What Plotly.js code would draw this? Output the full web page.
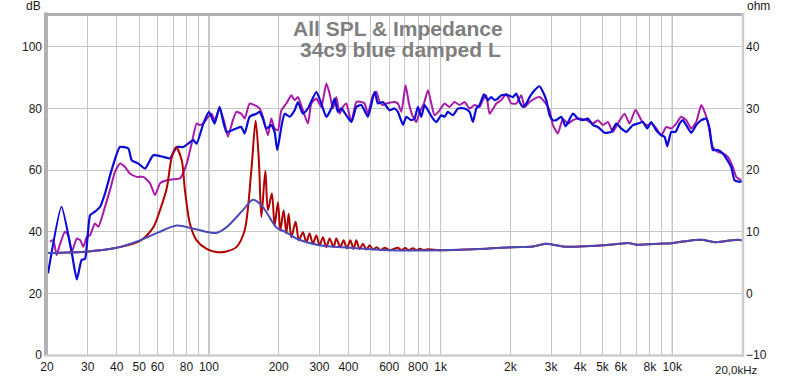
<!DOCTYPE html>
<html>
<head>
<meta charset="utf-8">
<script src="https://cdn.plot.ly/plotly-3.0.1.min.js"></script>
<style>html,body{margin:0;padding:0;background:#fff;}#chart{width:800px;height:377px;}</style>
</head>
<body>
<div id="chart"></div>
<script>
// ---- data ----
const blueFreq = [20.2,23.1,25.6,26.9,28.2,29.2,30.7,32.2,33.9,35.6,38.0,41.3,44.9,46.4,49.6,53.0,57.5,63.5,67.9,72.6,77.5,85.6,88.5,94.6,100,105.8,111.2,118.9,131.3,138.0,142.6,149.8,160.2,165.5,171,176.9,185.9,192.1,197.3,205.4,212.2,223,234.4,242.2,254.5,267.5,290.8,305.6,321.2,337.5,348.7,360.3,372.8,411.8,432.8,454.9,485.7,519,536.4,563.6,602.5,633,654,688,711,747,772,798,825,853,882,927,958,1007,1040,1075,1130,1188,1269,1334,1379,1426,1473,1538,1600,1655,1710,1767,1828,1952,2051,2122,2193,2266,2344,2422,2545,2675,2764,2859,2954,3052,3157,3319,3464,3724,3914,4113,4323,4543,4775,5103,5453,5731,6023,6330,6761,7106,7467,7800,8116,8530,8966,9264,9515,9901,10333,10752,11110,11490,12080,12690,13340,14020,14490,14970,15730,16540,17100,17970,18570,19520,20000];
const blueSPL = [26.5,48.1,33.0,24.5,30.8,31.3,45.4,46.5,48.1,52.4,60.0,67.5,67.0,63.2,62.1,60.5,64.8,64.3,63.8,67.5,67.5,69.7,68.6,75.1,78.9,75.1,80.5,72.4,73.5,74.0,71.9,77.3,78.3,78.9,76.7,73.5,74.6,72.4,66.5,74.0,78.3,77.3,79.4,82.1,78.3,80.0,85.4,81.6,77.3,80.0,83.2,78.9,80.0,75.6,80.5,81.1,77.3,85.4,81.6,82.1,79.4,80.0,78.9,74.7,77.3,76.2,76.7,80.5,77.3,81.1,79.4,76.7,75.6,77.8,77.3,78.9,77.8,80.0,80.0,78.9,75.6,80.0,81.1,84.6,82.7,83.7,82.7,83.2,84.3,84.3,83.7,84.8,82.1,80.5,81.6,83.7,85.9,87.2,85.4,82.7,77.8,76.2,76.2,77.3,74.2,78.3,76.7,76.2,76.7,74.6,74.0,72.1,72.4,75.1,73.5,72.4,74.6,75.1,75.6,73.5,75.6,72.9,71.3,70.8,67.7,72.4,72.4,75.1,76.2,74.6,72.1,74.6,76.2,76.7,73.5,66.5,66.5,65.4,63.8,61.0,56.7,56.2,56.4];

const magFreq = [20.6,21.3,22.0,22.7,23.9,24.7,25.6,26.9,27.8,28.7,29.7,30.7,32.2,33.3,34.4,35.6,37.4,39.3,41.3,43.4,45.6,48.8,52.1,55.7,58.5,61.5,65.7,70.2,75.0,80.2,84.2,88.5,91.4,94.5,99.3,102.7,105.8,111.2,117.0,120.8,126.9,131.3,138.0,142.6,149.8,157.5,165.5,171.0,179.7,185.9,192.1,198.6,205.4,215.8,226.8,234.4,242.2,254.5,267.5,276.7,290.8,305.6,321.2,331.9,342.9,354.7,366.5,378.7,391.7,411.8,432.8,454.9,469.9,485.6,510.5,528,545.5,563.6,583,633,654,677,706,730,755,785,812,847,882,912,942,990,1040,1093,1149,1208,1269,1334,1402,1473,1522,1575,1627,1740,1828,1921,2019,2122,2230,2305,2422,2545,2675,2811,2954,3053,3209,3372,3543,3724,3980,4253,4543,4775,5018,5274,5541,5823,6222,6540,6943,7348,7722,8116,8530,8966,9421,9901,10406,10935,11490,12080,12690,13340,13790,14240,14970,15730,16540,17380,18260,18890,19860];
const magSPL = [36.7,37.3,32.4,35.7,40.0,38.9,33.5,37.8,37.3,35.1,38.3,38.9,42.7,41.6,44.3,48.1,53.5,59.4,62.1,61.0,58.9,57.8,57.8,55.7,51.9,55.7,56.7,57.0,57.3,62.1,68.6,75.1,74.6,75.1,77.3,78.3,76.2,80.0,75.1,70.8,76.2,78.9,78.3,76.7,81.6,81.1,80.0,77.3,71.3,76.7,73.5,72.9,79.4,81.6,84.3,82.7,83.7,79.4,75.1,81.6,83.2,80.5,88.1,84.8,80.0,83.7,78.3,80.5,81.6,75.6,82.1,82.1,81.6,78.3,84.3,85.4,82.1,81.1,81.6,82.1,81.6,78.9,87.5,81.6,77.8,75.6,78.9,81.6,85.9,81.6,77.8,79.4,81.6,80.5,82.1,81.1,82.1,80.0,81.1,80.5,82.7,84.3,78.3,81.6,82.7,84.8,81.6,81.6,84.3,80.5,82.1,83.2,83.7,82.1,79.4,74.6,71.9,76.7,75.1,76.2,76.7,76.2,75.1,76.2,74.6,75.6,72.4,75.1,78.3,75.1,79.6,76.2,74.6,75.1,73.5,71.3,74.0,73.5,75.1,77.3,76.2,73.5,75.6,81.1,78.9,75.6,67.5,65.9,65.4,64.3,61.0,57.8,56.7];

const zDampFreq = [20,30.1,40.0,50.4,60.5,72.6,85.6,100,107.6,118.9,140.2,154.9,171.0,195.4,215.8,238.4,300.5,404.9,602.5,1007,1473,2051,2503,2859,3052,3372,3980,5018,5923,6543,6994,8816,10000,11110,13340,15250,17100,19210,20000];
const zDamp = [6.53,6.8,7.4,8.6,9.9,11.0,10.5,9.9,9.8,10.7,13.5,15.2,14.0,10.7,9.9,8.9,7.8,7.4,7.0,7.0,7.2,7.5,7.6,8.05,7.9,7.6,7.6,7.8,8.05,8.15,7.9,8.05,8.15,8.4,8.7,8.3,8.5,8.7,8.6];

const zRedFreq = [20,30.1,40.0,50.4,57.5,61.5,65.7,69.1,72.1,76.3,78.8,82.8,88.5,97.8,107.6,118.9,131.3,142.6,152.4,159.1,164.4,168.4,175.2,179.7,187.0,192.1,198.6,203.4,210.1,215.8,220.8,226.8,236.7,244.6,254.5,263.3,272.0,281.1,290.8,300.5,310.5,321.2,331.9,345.3,354.7,369.1,381.4,394.1,407.7,421.3,432.8,447.2,462.1,477.9,493.9,510.5,529.6,550.8,573.2,602.5,654,677,704,728,759,788,812,845,882,1007,1473,2051,2503,2859,3052,3372,3980,5018,5923,6543,6994,8816,10000,11110,13340,15250,17100,19210,20000];
const zRed = [6.53,6.8,7.4,8.5,10.7,13.5,17.0,22.1,23.7,21.6,16.7,11.3,8.6,7.2,6.7,6.8,7.5,10.2,19.9,28.0,21.3,12.4,19.9,13.5,16.2,11.0,14.8,10.2,13.5,9.7,12.9,9.1,11.6,8.6,9.9,8.3,9.7,8.05,9.4,7.8,9.1,7.5,8.9,7.5,8.9,7.5,8.6,7.3,8.6,7.2,8.6,7.2,8.05,7.1,7.8,7.1,7.5,7.0,7.4,7.0,7.4,7.0,7.35,7.0,7.3,7.0,7.25,7.0,7.15,7.0,7.2,7.5,7.6,8.05,7.9,7.6,7.6,7.8,8.05,8.15,7.9,8.05,8.15,8.4,8.7,8.3,8.5,8.7,8.6];

const xTickVals = [20,30,40,50,60,70,80,90,100,200,300,400,500,600,700,800,900,1000,2000,3000,4000,5000,6000,7000,8000,9000,10000,20000];
const xTickText = ['20','30','40','50','60','','80','','100','200','300','400','','600','','800','','1k','2k','3k','4k','5k','6k','','8k','','10k',''];
const yTickVals = [0,20,40,60,80,100];
const y2TickVals = [-10,0,10,20,30,40];
const titleLines = ['All SPL & Impedance','34c9 blue damped L'];

// ---- plot ----
const FONT = 'Liberation Sans, Arial, Helvetica, sans-serif';
const traces = [
  {x: zRedFreq, y: zRed, yaxis: 'y2', mode: 'lines', line: {color: '#b00000', width: 2, shape: 'spline', smoothing: 0.8}, hoverinfo: 'skip'},
  {x: zDampFreq, y: zDamp, yaxis: 'y2', mode: 'lines', line: {color: '#4a4abb', width: 2, shape: 'spline', smoothing: 0.8}, hoverinfo: 'skip'},
  {x: magFreq, y: magSPL, mode: 'lines', line: {color: '#a81aa8', width: 2, shape: 'spline', smoothing: 0.5}, hoverinfo: 'skip'},
  {x: blueFreq, y: blueSPL, mode: 'lines', line: {color: '#0a0ad8', width: 2.2, shape: 'spline', smoothing: 0.5}, hoverinfo: 'skip'}
];

const W = 695, H = 339;
function px(x){ return (x - 47) / W; }
function py(y){ return (355 - y) / H; }

const shapes = [];
[100, 1000, 10000].forEach(v => shapes.push({type: 'line', xref: 'x', yref: 'paper', x0: v, x1: v, y0: 0, y1: 1, line: {color: '#8a8a8a', width: 1}, layer: 'between'}));
shapes.push({type: 'line', xref: 'paper', yref: 'paper', x0: px(46), x1: px(46), y0: py(356), y1: py(12.5), line: {color: '#b2b2b2', width: 4}, layer: 'above'});
shapes.push({type: 'line', xref: 'paper', yref: 'paper', x0: px(44), x1: px(744), y0: py(14.5), y1: py(14.5), line: {color: '#b2b2b2', width: 3}, layer: 'above'});
shapes.push({type: 'line', xref: 'paper', yref: 'paper', x0: px(743), x1: px(743), y0: py(356.5), y1: py(13), line: {color: '#cdcdcd', width: 2.5}, layer: 'above'});
shapes.push({type: 'line', xref: 'paper', yref: 'paper', x0: px(45), x1: px(744), y0: py(355.5), y1: py(355.5), line: {color: '#cdcdcd', width: 2.5}, layer: 'above'});

const annotations = [
  {text: titleLines[0], xref: 'paper', yref: 'paper', x: px(397.5), y: py(28), xanchor: 'center', yanchor: 'middle', showarrow: false, font: {family: FONT, size: 21, color: '#7f7f7f', weight: 'bold'}},
  {text: titleLines[1], xref: 'paper', yref: 'paper', x: px(400), y: py(49.5), xanchor: 'center', yanchor: 'middle', showarrow: false, font: {family: FONT, size: 21, color: '#7f7f7f', weight: 'bold'}},
  {text: 'dB', xref: 'paper', yref: 'paper', x: px(33), y: py(6), xanchor: 'center', yanchor: 'middle', showarrow: false, font: {family: FONT, size: 12, color: '#1a1a1a'}},
  {text: 'ohm', xref: 'paper', yref: 'paper', x: px(745), y: py(6), xanchor: 'left', yanchor: 'middle', showarrow: false, font: {family: FONT, size: 12, color: '#1a1a1a'}},
  {text: '20,0kHz', xref: 'paper', yref: 'paper', x: px(736), y: py(369.5), xanchor: 'center', yanchor: 'middle', showarrow: false, borderpad: 0, font: {family: FONT, size: 11.5, color: '#1a1a1a'}}
];

const layout = {
  width: 800, height: 377,
  margin: {l: 47, r: 58, t: 16, b: 22, pad: 0},
  paper_bgcolor: '#ffffff', plot_bgcolor: '#ffffff',
  showlegend: false,
  font: {family: FONT, size: 12, color: '#1a1a1a'},
  xaxis: {type: 'log', range: [Math.log10(20), Math.log10(20000)], tickmode: 'array', tickvals: xTickVals, ticktext: xTickText,
          showgrid: true, gridcolor: '#c6c6c6', gridwidth: 1, zeroline: false, showline: false, ticks: '', ticklabelstandoff: 3, fixedrange: true},
  yaxis: {range: [0, 110], tickmode: 'array', tickvals: yTickVals, showgrid: true, gridcolor: '#c6c6c6', gridwidth: 1,
          zeroline: false, showline: false, ticks: '', ticklabelstandoff: 4, fixedrange: true},
  yaxis2: {range: [-10, 45], overlaying: 'y', side: 'right', tickmode: 'array', tickvals: y2TickVals, showgrid: false,
           zeroline: false, showline: false, ticks: '', ticklabelstandoff: 3, fixedrange: true},
  shapes: shapes,
  annotations: annotations
};

Plotly.newPlot('chart', traces, layout, {staticPlot: true, displayModeBar: false});
</script>
</body>
</html>
